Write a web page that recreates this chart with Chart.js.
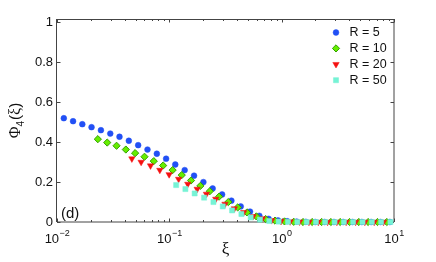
<!DOCTYPE html>
<html>
<head>
    <title>Phi4(xi)</title>
    <script src="https://cdn.jsdelivr.net/npm/chart.js"></script>
    <style>
        body { margin: 0; background: #fff; }
        canvas { display: block; }
    </style>
</head>
<body>
<canvas id="wykres" width="436" height="262"></canvas>
<script>
// dane
const seriesLabels = ['R = 5', 'R = 10', 'R = 20', 'R = 50'];

const xiR5 = [0.0115, 0.0139, 0.0168, 0.0203, 0.0246, 0.0298, 0.0360, 0.0436, 0.0528, 0.0639, 0.0774, 0.0936,
              0.113, 0.137, 0.166, 0.201, 0.243, 0.295, 0.357, 0.432, 0.523, 0.633, 0.766, 0.927,
              1.12, 1.36, 1.64, 1.99, 2.41, 2.92, 3.53, 4.27, 5.17, 6.26, 7.58, 9.18];
const phiR5 = [0.520, 0.505, 0.490, 0.475, 0.460, 0.443, 0.427, 0.407, 0.385, 0.363, 0.342, 0.317,
               0.288, 0.260, 0.232, 0.200, 0.168, 0.138, 0.107, 0.078, 0.052, 0.031, 0.016, 0.008,
               0.004, 0.002, 0.001, 0, 0, 0, 0, 0, 0, 0, 0, 0];

const xiR10 = [0.0231, 0.0280, 0.0339, 0.0410, 0.0496, 0.0601, 0.0727, 0.0881, 0.107, 0.129, 0.156, 0.189,
               0.229, 0.277, 0.335, 0.406, 0.491, 0.595, 0.720, 0.872, 1.06, 1.28, 1.55, 1.87,
               2.27, 2.74, 3.32, 4.02, 4.86, 5.89, 7.13, 8.63];
const phiR10 = [0.415, 0.398, 0.382, 0.363, 0.345, 0.327, 0.305, 0.283, 0.260, 0.235, 0.208, 0.181,
                0.154, 0.127, 0.100, 0.073, 0.048, 0.028, 0.015, 0.007, 0.003, 0.001, 0, 0,
                0, 0, 0, 0, 0, 0, 0, 0];

const xiR20 = [0.0464, 0.0561, 0.0680, 0.0823, 0.0996, 0.121, 0.146, 0.177, 0.214, 0.259, 0.313, 0.379,
               0.459, 0.556, 0.673, 0.814, 0.986, 1.19, 1.44, 1.75, 2.12, 2.56, 3.10, 3.75,
               4.55, 5.50, 6.66, 8.06];
const phiR20 = [0.317, 0.300, 0.282, 0.260, 0.238, 0.215, 0.190, 0.165, 0.140, 0.115, 0.090, 0.067,
                0.048, 0.028, 0.017, 0.008, 0.004, 0.002, 0.001, 0, 0, 0, 0, 0,
                0, 0, 0, 0];

const xiR50 = [0.115, 0.139, 0.168, 0.204, 0.247, 0.299, 0.362, 0.438, 0.530, 0.641, 0.776, 0.940,
               1.14, 1.38, 1.67, 2.02, 2.44, 2.96, 3.58, 4.33, 5.25, 6.35, 7.69, 9.30];
const phiR50 = [0.185, 0.165, 0.143, 0.122, 0.100, 0.078, 0.058, 0.040, 0.023, 0.012, 0.005, 0.002,
                0.001, 0, 0, 0, 0, 0, 0, 0, 0, 0, 0, 0];

const yTicks = [0, 0.2, 0.4, 0.6, 0.8, 1];
const xDecades = [-2, -1, 0, 1];
const panelTag = '(d)';
const xTitle = 'ξ';

// wyglad serii
const style = [
    { pointStyle: 'circle',   radius: 2.9, rotation: 0,   fill: '#2250f5', border: '#2250f5', bw: 0.5 },
    { pointStyle: 'rectRot',  radius: 3.6, rotation: 0,   fill: '#66ee00', border: '#33a000', bw: 1 },
    { pointStyle: 'triangle', radius: 3.7, rotation: 180, fill: '#f51010', border: '#f51010', bw: 0.5 },
    { pointStyle: 'rect',     radius: 3.6, rotation: 0,   fill: '#76f3d5', border: '#76f3d5', bw: 0.5 }
];

const xs = [xiR5, xiR10, xiR20, xiR50];
const ys = [phiR5, phiR10, phiR20, phiR50];

const sans = '"Liberation Sans", Arial, Helvetica, sans-serif';
const serif = '"Liberation Serif", "Times New Roman", serif';
const axisColor = '#444';

const datasets = seriesLabels.map((lab, k) => ({
    label: lab,
    data: xs[k].map((x, i) => ({ x: x, y: ys[k][i] })),
    pointStyle: style[k].pointStyle,
    pointRadius: style[k].radius,
    pointRotation: style[k].rotation,
    pointBackgroundColor: style[k].fill,
    pointBorderColor: style[k].border,
    pointBorderWidth: style[k].bw,
    showLine: false,
    clip: false,
    order: seriesLabels.length - 1 - k
}));

// ramka osi, znaczniki skierowane do srodka
const ramka = {
    id: 'ramka',
    beforeDatasetsDraw(chart) {
        const ctx = chart.ctx, a = chart.chartArea;
        const sx = chart.scales.x, sy = chart.scales.y;
        ctx.save();
        ctx.strokeStyle = axisColor;
        ctx.lineWidth = 1;
        ctx.beginPath();
        ctx.moveTo(a.left - 0.5, a.top + 0.5); ctx.lineTo(a.right, a.top + 0.5);
        ctx.moveTo(a.left - 0.5, a.top); ctx.lineTo(a.left - 0.5, a.bottom);
        ctx.moveTo(a.right, a.top); ctx.lineTo(a.right, a.bottom);
        ctx.moveTo(a.left, a.bottom); ctx.lineTo(a.right, a.bottom);
        // y ticks
        yTicks.forEach(v => {
            const py = Math.round(sy.getPixelForValue(v)) + 0.5;
            ctx.moveTo(a.left, py); ctx.lineTo(a.left + 3.5, py);
            ctx.moveTo(a.right, py); ctx.lineTo(a.right - 3.5, py);
        });
        // x ticks (dekady i podzialka pomocnicza)
        xDecades.forEach(d => {
            for (let m = 1; m <= 9; m++) {
                const v = m * Math.pow(10, d);
                if (v > sx.max * 1.0001) break;
                const px = Math.round(sx.getPixelForValue(v)) + 0.5;
                const len = m === 1 ? 3.5 : 2;
                ctx.moveTo(px, a.bottom); ctx.lineTo(px, a.bottom - len);
                ctx.moveTo(px, a.top); ctx.lineTo(px, a.top + len);
            }
        });
        ctx.stroke();
        ctx.restore();
    },
    afterDraw(chart) {
        const ctx = chart.ctx, a = chart.chartArea;
        const sx = chart.scales.x;
        ctx.save();
        ctx.fillStyle = '#111';

        // etykiety osi x: 10^n
        xDecades.forEach(d => {
            const px = sx.getPixelForValue(Math.pow(10, d));
            ctx.font = '13px ' + sans;
            const wb = ctx.measureText('10').width;
            ctx.font = '9px ' + sans;
            const ex = d < 0 ? '\u2212' + (-d) : String(d);
            const we = ctx.measureText(ex).width;
            const x0 = px - (wb + we) / 2;
            ctx.textAlign = 'left';
            ctx.textBaseline = 'alphabetic';
            ctx.font = '13px ' + sans;
            ctx.fillText('10', x0, 242.5);
            ctx.font = '9px ' + sans;
            ctx.fillText(ex, x0 + wb + 0.5, 236);
        });

        // tytul osi x
        ctx.font = '17px ' + serif;
        ctx.textAlign = 'center';
        ctx.fillText(xTitle, (a.left + a.right) / 2, 254);

        // tytul osi y: Phi_4(xi)
        ctx.save();
        ctx.translate(20, (a.top + a.bottom) / 2);
        ctx.rotate(-Math.PI / 2);
        ctx.textAlign = 'left';
        ctx.textBaseline = 'alphabetic';
        ctx.font = '16px ' + serif;
        const w1 = ctx.measureText('Φ').width;
        ctx.font = '10px ' + sans;
        const w2 = ctx.measureText('4').width;
        ctx.font = '15px ' + sans;
        const w3 = ctx.measureText('(').width;
        ctx.font = '16px ' + serif;
        const w4 = ctx.measureText('ξ').width;
        ctx.font = '15px ' + sans;
        const w5 = ctx.measureText(')').width;
        let cx = -(w1 + w2 + w3 + w4 + w5 + 1) / 2;
        ctx.font = '16px ' + serif; ctx.fillText('Φ', cx, 0); cx += w1;
        ctx.font = '10px ' + sans; ctx.fillText('4', cx, 4); cx += w2 + 1;
        ctx.font = '15px ' + sans; ctx.fillText('(', cx, 0); cx += w3;
        ctx.font = '16px ' + serif; ctx.fillText('ξ', cx, 0); cx += w4;
        ctx.font = '15px ' + sans; ctx.fillText(')', cx, 0);
        ctx.restore();

        // oznaczenie panelu
        ctx.font = '15px ' + sans;
        ctx.textAlign = 'left';
        ctx.textBaseline = 'middle';
        ctx.fillText(panelTag, a.left + 4, 214);

        // legenda w prawym gornym rogu
        seriesLabels.forEach((lab, k) => {
            const y = 32.5 + k * 15.9;
            const st = style[k];
            ctx.fillStyle = st.fill;
            ctx.strokeStyle = st.border;
            ctx.lineWidth = st.bw;
            Chart.helpers.drawPoint(ctx, {
                pointStyle: st.pointStyle, radius: st.radius, rotation: st.rotation, borderWidth: st.bw
            }, 336, y);
            ctx.fillStyle = '#111';
            ctx.font = '12.5px ' + sans;
            ctx.textBaseline = 'middle';
            ctx.fillText(lab, 349.5, y + 0.5);
        });
        ctx.restore();
    }
};

const ctx = document.getElementById('wykres').getContext('2d');
const myChart = new Chart(ctx, {
    type: 'scatter',
    data: { datasets: datasets },
    options: {
        responsive: false,
        animation: false,
        devicePixelRatio: 1,
        layout: { padding: { top: 19, right: 42, left: 0, bottom: 0 } },
        scales: {
            x: {
                type: 'logarithmic',
                min: 0.01,
                max: 10,
                ticks: { display: false },
                grid: { display: false, drawTicks: false },
                border: { display: false },
                afterFit: s => { s.height = 40; }
            },
            y: {
                min: 0,
                max: 1.017,
                afterBuildTicks: s => { s.ticks = yTicks.map(v => ({ value: v })); },
                ticks: {
                    padding: 4,
                    color: '#111',
                    font: { family: sans, size: 13 },
                    callback: v => String(v)
                },
                grid: { display: false, drawTicks: false },
                border: { display: false },
                afterFit: s => { s.width = 57; }
            }
        },
        plugins: {
            legend: { display: false },
            tooltip: { enabled: false }
        }
    },
    plugins: [ramka]
});
</script>
</body>
</html>
